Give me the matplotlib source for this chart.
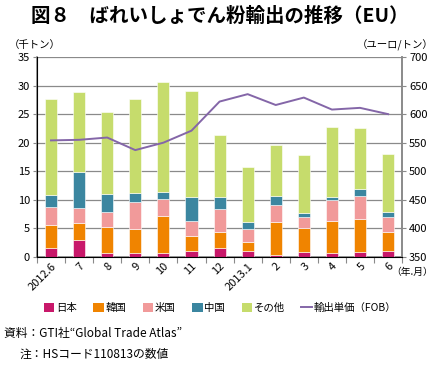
import matplotlib

matplotlib.use("Agg")
import matplotlib.pyplot as plt
import numpy as np
from matplotlib.lines import Line2D
from matplotlib.patches import Patch

plt.rcParams["font.family"] = ["Noto Sans CJK JP", "DejaVu Sans"]

months = ["2012.6", "7", "8", "9", "10", "11", "12", "2013.1", "2", "3", "4", "5", "6"]
# cumulative tops, converted to segment heights below
japan = [1.6, 3.0, 0.6, 0.7, 0.7, 1.1, 1.6, 1.1, 0.3, 0.8, 0.7, 0.8, 1.1]
korea_top = [5.6, 6.0, 5.3, 4.9, 7.2, 3.7, 4.4, 2.6, 6.1, 5.1, 6.3, 6.6, 4.4]
usa_top = [8.7, 8.6, 7.8, 9.6, 10.1, 6.3, 8.3, 4.9, 9.0, 6.9, 10.0, 10.7, 7.0]
china_top = [10.9, 14.9, 11.0, 11.2, 11.3, 10.5, 10.4, 6.1, 10.7, 7.7, 10.5, 11.8, 7.8]
total = [27.7, 28.8, 25.4, 27.7, 30.7, 29.0, 21.3, 15.8, 19.6, 17.9, 22.8, 22.6, 18.0]
price = [554, 555, 559, 537, 550, 571, 622, 635, 616, 629, 608, 611, 600]

korea = np.array(korea_top) - np.array(japan)
usa = np.array(usa_top) - np.array(korea_top)
china = np.array(china_top) - np.array(usa_top)
other = np.array(total) - np.array(china_top)

colors = ["#C8186A", "#F08400", "#F19A9A", "#3B86A0", "#C6DC6C"]
names = ["日本", "韓国", "米国", "中国", "その他"]
line_color = "#8466A8"

fig = plt.figure(figsize=(4.4, 3.68), dpi=100)
ax = fig.add_axes([0.084, 0.302, 0.83, 0.543])
x = np.arange(len(months))
bottom = np.zeros(len(months))
for vals, c in zip([japan, korea, usa, china, other], colors):
    ax.bar(x, vals, bottom=bottom, width=0.43, color=c, edgecolor="white", linewidth=0.4, zorder=3)
    bottom = bottom + np.array(vals)

ax.set_ylim(0, 35)
ax.set_xlim(-0.5, len(months) - 0.5)
ax.set_yticks(range(0, 36, 5))
ax.grid(axis="y", color="#8a8a8a", linewidth=0.9, zorder=0)
ax.set_xticks(np.arange(-0.5, len(months), 1))
ax.set_xticklabels([])
ax.set_xticks(x, minor=True)
ax.set_xticklabels(months, minor=True, rotation=45, ha="right", rotation_mode="anchor", fontsize=8)
ax.tick_params(axis="x", which="minor", length=0, pad=3)
ax.tick_params(axis="x", which="major", length=4, color="#8a8a8a", direction="out")
ax.tick_params(axis="y", length=3, color="#8a8a8a", labelsize=8, pad=2)
ax.spines["top"].set_visible(False)
for s in ["left", "right", "bottom"]:
    ax.spines[s].set_color("#8a8a8a")
    ax.spines[s].set_linewidth(1.2)

ax2 = ax.twinx()
ax2.plot(x, price, color=line_color, linewidth=1.4, zorder=4)
ax2.set_ylim(350, 700)
ax2.set_yticks(range(350, 701, 50))
ax2.tick_params(axis="y", length=3, color="#8a8a8a", labelsize=8, pad=2)
ax2.spines["top"].set_visible(False)
ax2.spines["right"].set_color("#8a8a8a")
ax2.spines["right"].set_linewidth(1.2)

fig.text(0.5, 0.955, "図８　ばれいしょでん粉輸出の推移（EU）", ha="center", va="center",
         fontsize=14, fontweight="bold")
fig.text(0.02, 0.878, "（千トン）", ha="left", va="center", fontsize=7.5)
fig.text(0.985, 0.878, "（ユーロ/トン）", ha="right", va="center", fontsize=7.5)
fig.text(0.985, 0.262, "（年.月）", ha="right", va="center", fontsize=7)

handles = [Patch(facecolor=c, edgecolor="none") for c in colors]
handles.append(Line2D([0], [0], color=line_color, linewidth=1.4))
fig.legend(handles, names + ["輸出単価（FOB）"], loc="center", bbox_to_anchor=(0.5, 0.163),
           ncol=6, frameon=False, fontsize=7.5, handlelength=1.0, handleheight=0.9,
           handletextpad=0.15, columnspacing=1.6)

fig.text(0.01, 0.093, "資料：GTI社“Global Trade Atlas”", ha="left", va="center", fontsize=8.5)
fig.text(0.045, 0.036, "注：HSコード110813の数値", ha="left", va="center", fontsize=8.5)

fig.savefig("out.png", dpi=100)
